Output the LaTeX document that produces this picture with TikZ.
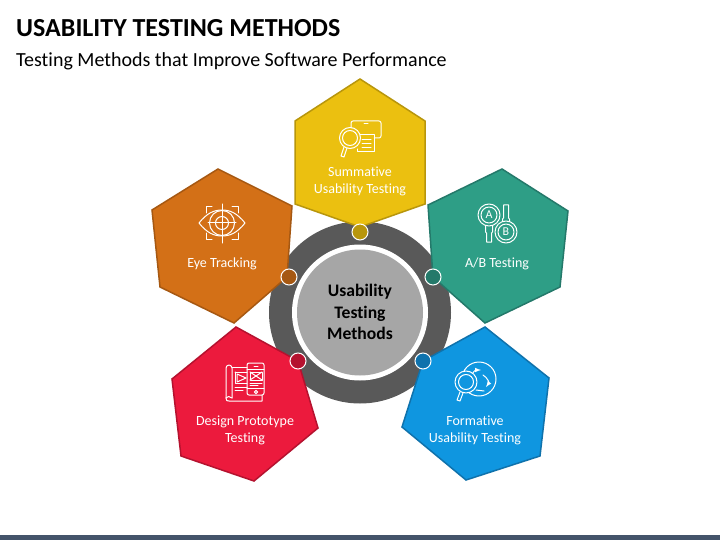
\documentclass[tikz,border=0pt]{standalone}
\usepackage{fontspec}
\setmainfont{Carlito}[Ligatures=NoCommon]
\usetikzlibrary{positioning, arrows}
\definecolor{Sum-1}{RGB}{235,192,16}
\definecolor{Sum-2}{RGB}{184,150,12}
\definecolor{Eye-1}{RGB}{211,112,23}
\definecolor{Eye-2}{RGB}{166,88,18}
\definecolor{Abt-1}{RGB}{46,158,134}
\definecolor{Abt-2}{RGB}{36,121,106}
\definecolor{Dsg-1}{RGB}{236,26,61}
\definecolor{Dsg-2}{RGB}{181,18,47}
\definecolor{Frm-1}{RGB}{15,150,224}
\definecolor{Frm-2}{RGB}{15,114,172}
\tikzset{
  hexline/.style={line width=1.5pt, line join=miter},
  hexlabel/.style={text=white, align=center, font=\fontsize{14}{16.8}\selectfont, inner sep=0pt},
  dotnode/.style={circle, draw=white, line width=1pt, minimum size=16pt, inner sep=0pt},
  iconline/.style={draw=white, line width=1pt, line cap=round, line join=round},
}
\begin{document}
\begin{tikzpicture}[x=1pt, y=-1pt]
      \useasboundingbox (0,0) rectangle (720,540);
      \fill[white] (0,0) rectangle (720,540);
      \fill[fill={rgb,255:red,68;green,84;blue,106}] (0,535) rectangle (720,540);

      \node[anchor=base west, inner sep=0pt, font=\fontsize{26}{30}\selectfont\bfseries] (title) at (16,37) {USABILITY TESTING METHODS};
      \node[anchor=base west, inner sep=0pt, font=\fontsize{20}{24}\selectfont] (subtitle) at (16,66.5) {Testing Methods that Improve Software Performance};

      % centre
      \fill[black!65] (360,312.5) circle (91);
      \fill[white] (360,312.5) circle (68);
      \fill[black!35] (360,312.5) circle (63);
      \node[align=center, inner sep=0pt, font=\fontsize{17.6}{21.3}\selectfont\bfseries] (hub) at (360,312) {Usability\\Testing\\Methods};

      % hexagons
      \draw[hexline, draw=Sum-2, fill=Sum-1] (360,79) -- (425,121) -- (425,204) -- (360,227) -- (295,204) -- (295,121) -- cycle;
      \draw[hexline, draw=Eye-2, fill=Eye-1] (218,169) -- (292,206) -- (287,277) -- (234,323) -- (160,287) -- (152,210) -- cycle;
      \draw[hexline, draw=Abt-2, fill=Abt-1] (502,169) -- (568,211) -- (560,287) -- (485,323) -- (433,277) -- (428,205) -- cycle;
      \draw[hexline, draw=Dsg-2, fill=Dsg-1] (236,327) -- (298,361) -- (318,428) -- (254,481) -- (181,456) -- (172,379) -- cycle;
      \draw[hexline, draw=Frm-2, fill=Frm-1] (485,327) -- (549,378) -- (540,456) -- (466,480) -- (402,427) -- (423,361) -- cycle;

      \node[dotnode, fill=Sum-2] (sumdot) at (360,232) {};
      \node[dotnode, fill=Eye-2] (eyedot) at (289,277) {};
      \node[dotnode, fill=Abt-2] (abtdot) at (433,277) {};
      \node[dotnode, fill=Dsg-2] (dsgdot) at (298,361) {};
      \node[dotnode, fill=Frm-2] (frmdot) at (423,361) {};

      \node[hexlabel] (sum) at (360,181) {Summative\\Usability Testing};
      \node[hexlabel] (eye) at (222,264) {Eye Tracking};
      \node[hexlabel] (abt) at (497,264) {A/B Testing};
      \node[hexlabel] (dsg) at (245,430.5) {Design Prototype\\Testing};
      \node[hexlabel] (frm) at (475,430.5) {Formative\\Usability Testing};

      % summative icon
      \draw[iconline] (357,138) -- (353,138) [rounded corners=2pt] -- (351,138) -- (351,121) -- (381,121) -- (381,138) -- (374,138);
      \draw[iconline] (364,124) -- (368,124);
      \draw[iconline] (360,135) -- (374,135) -- (374,152) -- (357,152) -- (357,149);
      \draw[iconline] (362,140) -- (371,140) (362,144) -- (371,144) (362,148) -- (371,148);
      \draw[iconline, fill=Sum-1] (350,138) circle (10.5);
      \draw[iconline] (350,138) circle (7.5);
      \draw[iconline] (347,148) -- (344,157) -- (341,156) -- (344,147);

      % eye icon
      \draw[iconline] (199,223) .. controls (207,213) and (214,210) .. (222,210) .. controls (230,210) and (237,213) .. (245,223) .. controls (237,233) and (230,236) .. (222,236) .. controls (214,236) and (207,233) .. (199,223) -- cycle;
      \draw[iconline] (222,223) circle (12.5);
      \draw[iconline] (222,223) circle (6.5);
      \draw[iconline] (222,204) -- (222,243) (208,223) -- (236,223);
      \draw[iconline] (206,213) -- (206,207) -- (212,207) (232,207) -- (238,207) -- (238,213) (238,233) -- (238,239) -- (232,239) (212,239) -- (206,239) -- (206,233);

      % A/B icon
      \draw[iconline] (489,215) circle (11);
      \draw[iconline] (489,215) circle (8);
      \draw[iconline] (485.5,226) -- (485.5,232) -- (486.5,233) -- (486.5,242) -- (491.5,242) -- (491.5,233) -- (492.5,232) -- (492.5,226);
      \draw[iconline] (506,232) circle (11);
      \draw[iconline] (506,232) circle (8);
      \draw[iconline] (502.5,221) -- (502.5,219) -- (503.5,218) -- (503.5,205) -- (508.5,205) -- (508.5,218) -- (509.5,219) -- (509.5,221);
      \node[text=white, inner sep=0pt, font=\fontsize{12}{12}\selectfont] (alabel) at (489,215) {A};
      \node[text=white, inner sep=0pt, font=\fontsize{12}{12}\selectfont] (blabel) at (506,232) {B};

      % design icon
      \draw[iconline] (232,398) -- (232,368) arc (0:-180:3) -- (226,398);
      \draw[iconline] (232,367) -- (247,367);
      \draw[iconline] (226,398) .. controls (226,401) and (227,401) .. (229,401) -- (262,401) -- (262,395);
      \draw[iconline] (226,398) .. controls (227,396) and (230,396) .. (232,398);
      \draw[iconline] (235,372) -- (247,372) (247,383) -- (235,383) -- (235,372);
      \draw[iconline] (237,374) -- (246,378) -- (237,382) -- cycle;
      \draw[iconline] (235,387) -- (247,387) (235,390) -- (243,390);
      \draw[iconline, rounded corners=2pt] (247,363) rectangle (264,395);
      \draw[iconline] (254,366) -- (258,366) (247,369) -- (264,369) (247,388) -- (264,388);
      \draw[iconline] (250,372) rectangle (262,380);
      \draw[iconline] (250,372) -- (262,380) (262,372) -- (250,380);
      \draw[iconline] (250,383) -- (262,383) (250,385.5) -- (258,385.5);
      \draw[iconline] (256,392) circle (1.7);

      % formative icon
      \draw[iconline] (479,379) circle (17);
      \draw[iconline, ->, >=latex] (472,376) .. controls (472,372) and (476,370) .. (481,370);
      \draw[iconline, ->, >=latex] (483,375) .. controls (488,378) and (489,383) .. (486,387);
      \draw[iconline] (476,390) -- (484,391);
      \draw[iconline, fill=Frm-1] (466,382) circle (11);
      \draw[iconline] (466,382) circle (7.5);
      \draw[iconline] (463,393) -- (460,401) -- (457,400) -- (460,392);
\end{tikzpicture}
\end{document}
